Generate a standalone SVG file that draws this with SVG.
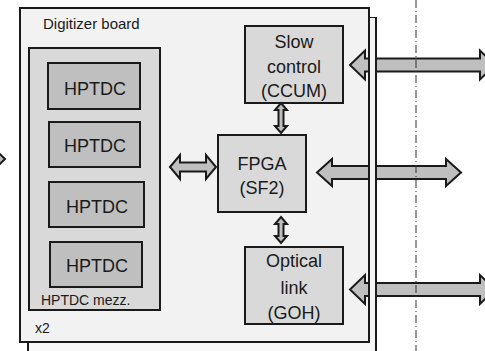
<svg xmlns="http://www.w3.org/2000/svg" width="485" height="351" viewBox="0 0 485 351">
  <style>
    .board { fill: #f2f2f2; stroke: #1a1a1a; stroke-width: 2; }
    .mezz { fill: #d9d9d9; stroke: #1a1a1a; stroke-width: 2; }
    .tdc { fill: #bfbfbf; stroke: #1a1a1a; stroke-width: 2; }
    .block { fill: #d9d9d9; stroke: #1a1a1a; stroke-width: 2; }
    .arrow { fill: #bfbfbf; stroke: #1a1a1a; stroke-width: 2; stroke-linejoin: miter; }
    .edge { stroke: #1a1a1a; stroke-width: 2; fill: none; }
    text { font-family: "Liberation Sans", Arial, sans-serif; fill: #1a1a1a; }
    .big { font-size: 18px; text-anchor: middle; }
    .small { font-size: 14px; }
  </style>

  <!-- second board stacked behind -->
  <g id="board-back">
    <rect x="28" y="18" width="348" height="340" fill="#f8f8f8" stroke="#1a1a1a" stroke-width="2"/>
  </g>

  <!-- front digitizer board -->
  <g id="board">
    <rect class="board" x="20" y="8" width="349" height="334"/>
    <text class="small" x="43" y="29" style="font-size:15px">Digitizer board</text>
    <text class="small" x="35" y="333">x2</text>
  </g>

  <!-- HPTDC mezzanine with four TDCs -->
  <g id="mezz">
    <rect class="mezz" x="29" y="48" width="131" height="262"/>
    <text class="small" x="41" y="305">HPTDC mezz.</text>
  </g>
  <g id="tdc1">
    <rect class="tdc" x="48" y="63" width="92" height="46"/>
    <text class="big" x="95" y="95">HPTDC</text>
  </g>
  <g id="tdc2">
    <rect class="tdc" x="49" y="122" width="91" height="45"/>
    <text class="big" x="95" y="152">HPTDC</text>
  </g>
  <g id="tdc3">
    <rect class="tdc" x="49" y="182" width="95" height="45"/>
    <text class="big" x="97" y="213">HPTDC</text>
  </g>
  <g id="tdc4">
    <rect class="tdc" x="50" y="242" width="92" height="45"/>
    <text class="big" x="97" y="272">HPTDC</text>
  </g>

  <g id="slow-control">
    <rect class="block" x="245" y="26" width="98" height="77"/>
    <text class="big" x="294" y="48">Slow</text>
    <text class="big" x="294" y="73">control</text>
    <text class="big" x="294" y="97">(CCUM)</text>
  </g>

  <g id="fpga">
    <rect class="block" x="218" y="135" width="88" height="77"/>
    <text class="big" x="262" y="170">FPGA</text>
    <text class="big" x="262" y="194">(SF2)</text>
  </g>

  <g id="optical-link">
    <rect class="block" x="245" y="247" width="98" height="77"/>
    <text class="big" x="294" y="267">Optical</text>
    <text class="big" x="294" y="294">link</text>
    <text class="big" x="294" y="319">(GOH)</text>
  </g>

  <g id="connectors">
    <!-- incoming from the left -->
    <polygon class="arrow" points="-30,154 -10,154 -10,144.5 5,159 -10,173.5 -10,164 -30,164"/>
    <!-- mezzanine to FPGA -->
    <polygon class="arrow" points="170,167 180,155 180,162.5 206,162.5 206,155 216,167 206,179 206,171.5 180,171.5 180,179"/>
    <!-- FPGA to slow control / optical link -->
    <polygon class="arrow" points="281,103 287,110 283.5,110 283.5,126 287,126 281,133 275,126 278.5,126 278.5,110 275,110"/>
    <polygon class="arrow" points="281,217 287,224 283.5,224 283.5,236 287,236 281,243 275,236 278.5,236 278.5,224 275,224"/>
    <!-- external links -->
    <polygon class="arrow" points="350,65 365,50.5 365,58.5 480,58.5 480,50.5 495,65 480,79.5 480,71.5 365,71.5 365,79.5"/>
    <polygon class="arrow" points="317,172.5 332,159 332,166 446,166 446,159 461,172.5 446,186 446,179 332,179 332,186"/>
    <polygon class="arrow" points="350,289.5 365,275 365,283 480,283 480,275 495,289.5 480,304 480,296 365,296 365,304"/>
  </g>

  <!-- board edges drawn over the external links -->
  <g id="board-edges">
    <rect x="370" y="18" width="5" height="333" fill="#f4f4f4"/>
    <line class="edge" x1="369" y1="7" x2="369" y2="343"/>
    <line class="edge" x1="376" y1="17" x2="376" y2="351"/>
  </g>

  <!-- crate boundary -->
  <line x1="416" y1="0" x2="416" y2="351" stroke="#333" stroke-width="1" stroke-dasharray="8,3,1,3"/>
</svg>
